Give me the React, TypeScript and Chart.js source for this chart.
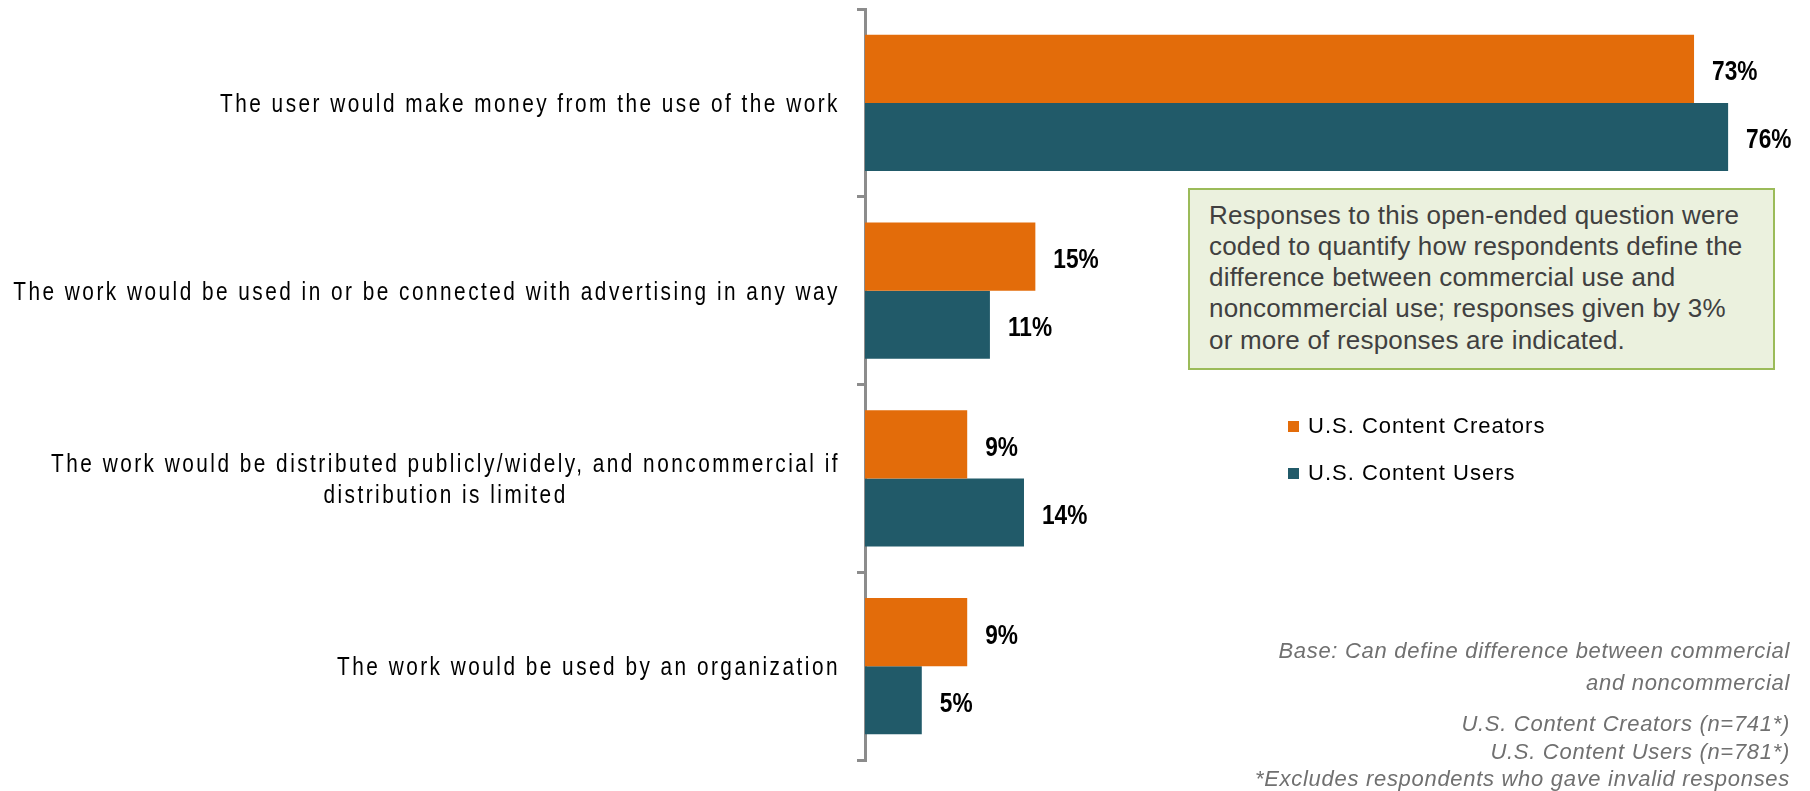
import { useEffect, useRef } from "react";
import { Chart, registerables } from "chart.js";

Chart.register(...registerables);

const categories: (string | string[])[] = [
  "The user would make money from the use of the work",
  "The work would be used in or be connected with advertising in any way",
  ["The work would be distributed publicly/widely, and noncommercial if", "distribution is limited"],
  "The work would be used by an organization",
];
const seriesNames = ["U.S. Content Creators", "U.S. Content Users"];
const creatorsValues = [73, 15, 9, 9];
const usersValues = [76, 11, 14, 5];
const seriesColors = ["#E36C0A", "#215A69"];
const valueSuffix = "%";
const axisMax = 79.6;

const noteLines = [
  "Responses to this open-ended question were",
  "coded to quantify how respondents define the",
  "difference between commercial use and",
  "noncommercial use; responses given by 3%",
  "or more of responses are indicated.",
];
const baseLines = [
  "Base: Can define difference between commercial",
  "and noncommercial",
  "U.S. Content Creators (n=741*)",
  "U.S. Content Users (n=781*)",
  "*Excludes respondents who gave invalid responses",
];

const FONT = '"Liberation Sans", Arial, sans-serif';

const categoryLabelPlugin = {
  id: "categoryLabels",
  afterDraw(chart: any) {
    const ctx = chart.ctx as CanvasRenderingContext2D;
    const yScale = chart.scales.y;
    const sx = 0.8;
    const right = 840;
    const lh = 31;
    ctx.save();
    ctx.fillStyle = "#000";
    ctx.font = `26px ${FONT}`;
    (ctx as any).letterSpacing = "3.1px";
    ctx.textBaseline = "middle";
    ctx.textAlign = "center";
    (chart.data.labels as (string | string[])[]).forEach((lab, i) => {
      const lines = Array.isArray(lab) ? lab : [lab];
      const cy = yScale.getPixelForValue(i) + 2;
      const widths = lines.map((l) => ctx.measureText(l).width * sx);
      const maxW = Math.max(...widths);
      const cx = right - maxW / 2;
      lines.forEach((l, j) => {
        const ly = cy + (j - (lines.length - 1) / 2) * lh;
        ctx.save();
        ctx.translate(cx, ly);
        ctx.scale(sx, 1);
        ctx.fillText(l, 0, 0);
        ctx.restore();
      });
    });
    ctx.restore();
  },
};

const valueLabelPlugin = {
  id: "valueLabels",
  afterDatasetsDraw(chart: any) {
    const ctx = chart.ctx as CanvasRenderingContext2D;
    ctx.save();
    ctx.fillStyle = "#000";
    ctx.font = `bold 27px ${FONT}`;
    ctx.textAlign = "left";
    ctx.textBaseline = "middle";
    chart.data.datasets.forEach((ds: any, di: number) => {
      const meta = chart.getDatasetMeta(di);
      meta.data.forEach((bar: any, i: number) => {
        ctx.save();
        ctx.translate(bar.x + 18, bar.y + 4);
        ctx.scale(0.84, 1);
        ctx.fillText(`${ds.data[i]}${valueSuffix}`, 0, 0);
        ctx.restore();
      });
    });
    ctx.restore();
  },
};

const legendPlugin = {
  id: "customLegend",
  afterDraw(chart: any) {
    const ctx = chart.ctx as CanvasRenderingContext2D;
    ctx.save();
    ctx.font = `22px ${FONT}`;
    (ctx as any).letterSpacing = "1px";
    ctx.textAlign = "left";
    ctx.textBaseline = "alphabetic";
    chart.data.datasets.forEach((ds: any, di: number) => {
      const baseY = 433 + di * 47;
      ctx.fillStyle = ds.backgroundColor;
      ctx.fillRect(1288, baseY - 12, 11, 11);
      ctx.fillStyle = "#000";
      ctx.fillText(ds.label, 1308, baseY);
    });
    ctx.restore();
  },
};

const footnotePlugin = {
  id: "footnote",
  afterDraw(chart: any) {
    const ctx = chart.ctx as CanvasRenderingContext2D;
    const ys = [658, 690, 731, 759, 786];
    ctx.save();
    ctx.font = `italic 22px ${FONT}`;
    (ctx as any).letterSpacing = "0.7px";
    ctx.fillStyle = "#707070";
    ctx.textAlign = "right";
    ctx.textBaseline = "alphabetic";
    baseLines.forEach((l, i) => ctx.fillText(l, 1790, ys[i]));
    ctx.restore();
  },
};

export default function App() {
  const canvasRef = useRef<HTMLCanvasElement | null>(null);

  useEffect(() => {
    if (!canvasRef.current) return;
    const chart = new Chart(canvasRef.current, {
      type: "bar",
      data: {
        labels: categories,
        datasets: [
          {
            label: seriesNames[0],
            data: creatorsValues,
            backgroundColor: seriesColors[0],
            categoryPercentage: 0.725,
            barPercentage: 1,
          },
          {
            label: seriesNames[1],
            data: usersValues,
            backgroundColor: seriesColors[1],
            categoryPercentage: 0.725,
            barPercentage: 1,
          },
        ],
      },
      options: {
        indexAxis: "y",
        responsive: false,
        animation: false,
        layout: { padding: { top: 9, bottom: 31, right: 41, left: 0 } },
        plugins: {
          legend: { display: false },
          tooltip: { enabled: false },
        },
        scales: {
          x: { display: false, min: 0, max: axisMax },
          y: {
            position: "left",
            ticks: { display: false },
            grid: {
              display: true,
              drawOnChartArea: false,
              drawTicks: true,
              tickLength: 8,
              color: "#8C8C8C",
              lineWidth: 3,
              offset: true,
            },
            border: { display: true, color: "#8C8C8C", width: 3 },
            afterFit: (s: any) => {
              s.width = 865;
            },
          },
        },
      } as any,
      plugins: [valueLabelPlugin, categoryLabelPlugin, legendPlugin, footnotePlugin],
    });
    return () => chart.destroy();
  }, []);

  return (
    <div
      style={{
        position: "fixed",
        left: 0,
        top: 0,
        width: 1810,
        height: 791,
        background: "#fff",
        overflow: "hidden",
      }}
    >
      <canvas ref={canvasRef} width={1810} height={791} style={{ display: "block" }} />
      <div
        style={{
          position: "absolute",
          left: 1188,
          top: 188,
          width: 587,
          height: 182,
          boxSizing: "border-box",
          border: "2px solid #9BBB59",
          background: "#EBF1DE",
          padding: "9.6px 0 0 19px",
          fontFamily: FONT,
          fontSize: 26,
          letterSpacing: "0.2px",
          lineHeight: "31.3px",
          color: "#404040",
          whiteSpace: "nowrap",
        }}
      >
        {noteLines.map((l, i) => (
          <div key={i}>{l}</div>
        ))}
      </div>
    </div>
  );
}
